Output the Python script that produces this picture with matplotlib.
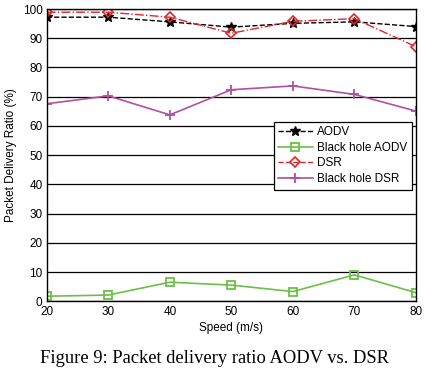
import matplotlib
matplotlib.use("Agg")
import matplotlib.pyplot as plt
from matplotlib.lines import Line2D

speed = [20, 30, 40, 50, 60, 70, 80]
aodv = [97.2, 97.2, 95.6, 93.8, 95.1, 95.6, 94.0]
bh_aodv = [1.8, 2.2, 6.6, 5.6, 3.4, 9.1, 3.0]
dsr = [98.9, 98.9, 97.2, 91.7, 95.8, 96.7, 87.1]
bh_dsr = [67.6, 70.3, 63.8, 72.4, 73.7, 70.8, 65.1]
xticks = [20, 30, 40, 50, 60, 70, 80]
yticks = list(range(0, 101, 10))
labels = ['AODV', 'Black hole AODV', 'DSR', 'Black hole DSR']

plt.rcParams['font.family'] = ['Liberation Sans', 'DejaVu Sans']

fig = plt.figure(figsize=(4.29, 3.83), dpi=100)
ax = fig.add_axes([0.1089, 0.2128, 0.8608, 0.7637])

s_aodv = dict(color='black', marker='*', markersize=7, linewidth=1.0)
s_bha = dict(color='#6cbf47', marker='s', markersize=6, markerfacecolor='none',
             markeredgewidth=1.3, linewidth=1.2)
s_dsr = dict(color='#e0262b', marker='D', markersize=5, markerfacecolor='none',
             markeredgewidth=1.2, linewidth=1.0)
s_bhd = dict(color='#b0509f', marker='+', markersize=7, markeredgewidth=1.3, linewidth=1.2)

ax.plot(speed, aodv, linestyle='--', **s_aodv)
ax.plot(speed, bh_aodv, linestyle='-', **s_bha)
ax.plot(speed, dsr, linestyle='-.', **s_dsr)
ax.plot(speed, bh_dsr, linestyle='-', **s_bhd)

ax.set_xlim(20, 80)
ax.set_ylim(0, 100)
ax.set_xticks(xticks)
ax.set_yticks(yticks)
ax.yaxis.grid(True, color='black', linewidth=0.9)
ax.set_axisbelow(True)
ax.tick_params(direction='in', labelsize=8.5, length=0, pad=3)
for s in ax.spines.values():
    s.set_linewidth(1.0)

ax.set_xlabel('Speed (m/s)', fontsize=8.5, labelpad=3)
ax.set_ylabel('Packet Delivery Ratio (%)', fontsize=8.5, labelpad=4)

handles = [Line2D([], [], linestyle='--', **s_aodv),
           Line2D([], [], linestyle='-', **s_bha),
           Line2D([], [], linestyle='--', **s_dsr),
           Line2D([], [], linestyle='-', **s_bhd)]
leg = ax.legend(handles, labels, loc='upper left', bbox_to_anchor=(0.615, 0.614),
                fontsize=8.5, frameon=True, fancybox=False, edgecolor='black',
                framealpha=1, handlelength=2.9, borderpad=0.38, labelspacing=0.3,
                handletextpad=0.4, borderaxespad=0)
leg.get_frame().set_linewidth(0.9)

fig.text(0.5, 0.065, 'Figure 9: Packet delivery ratio AODV vs. DSR',
         ha='center', va='center', fontsize=13.3, family='Liberation Serif')

fig.savefig('out.png', dpi=100)
